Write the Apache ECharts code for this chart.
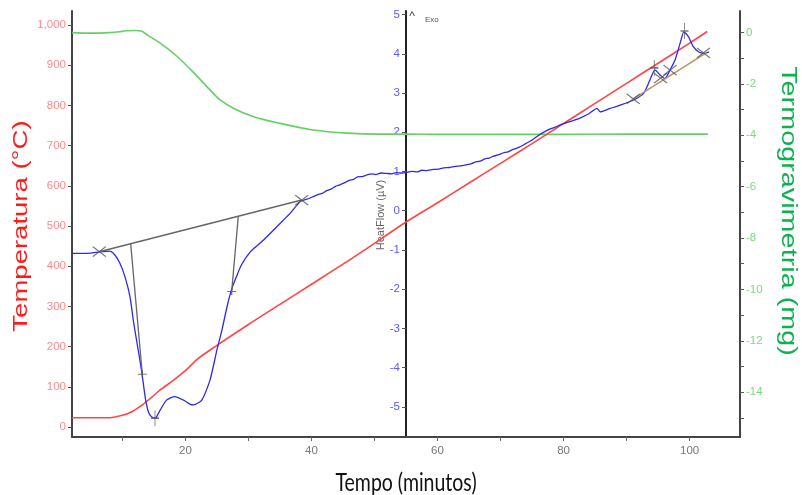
<!DOCTYPE html>
<html>
<head>
<meta charset="utf-8">
<script src="https://cdn.jsdelivr.net/npm/echarts@6/dist/echarts.min.js"></script>
<style>
  html, body { margin: 0; padding: 0; background: #fff; }
  #chart { width: 802px; height: 495px; }
</style>
</head>
<body>
<div id="chart"></div>
<script>
// Temperature programme (left axis, °C)
const tempTime  = [2, 8, 10, 11.5, 13, 14.5, 16, 18, 20, 22, 25, 30, 35, 40, 45, 50, 55, 60, 65, 70, 75, 80, 85, 90, 95, 100, 102.8];
const tempValue = [23, 23, 29, 38, 53, 72, 92, 115, 140, 170, 203, 255, 305, 355, 405, 457, 510, 558, 607, 656, 705, 755, 805, 855, 905, 955, 984];

// Thermogravimetry (right axis, mg)
const tgTime  = [2, 5, 8, 9.5, 10.5, 12.0, 13.1, 13.9, 16.0, 18.6, 21.2, 23.9, 25.5, 27.6, 30.8, 35.0, 40.3, 45.6, 50.9, 55.0, 60, 70, 80, 90, 102.9];
const tgValue = [-0.01, -0.03, -0.01, 0.02, 0.06, 0.07, 0.04, -0.10, -0.42, -0.92, -1.54, -2.24, -2.63, -2.95, -3.28, -3.54, -3.80, -3.92, -3.96, -3.96, -3.97, -3.97, -3.97, -3.96, -3.96];

// Heat flow (middle axis, µV)
const hfTime  = [2.0, 3.5, 4.9, 6.4, 8.0, 8.8, 9.6, 10.4, 11.2, 11.8, 12.5, 13.1, 13.6, 14.1, 14.6, 15.2, 16.0, 17.0, 18.3, 19.7, 20.7, 21.3, 22.6, 23.9, 25.0, 25.8, 26.6, 27.3, 28.1, 28.9, 30.3, 32.4, 34.5, 36.6,
                 38.2, 39.0, 39.6, 40.3, 41.0, 41.7, 42.4, 43.1, 43.8, 44.5, 45.2, 46.0, 46.7, 47.3, 48.0, 48.8, 49.5, 50.2, 51.0, 51.9, 52.7, 53.5, 54.3, 55.0, 55.9, 56.8, 57.5, 58.2, 59.3, 60.2, 61.0, 61.9, 62.8, 63.7, 64.6, 65.4, 66.2, 66.9, 67.5, 68.2, 68.9, 69.6, 70.4, 71.2, 72.0, 73.0, 74.0, 75.0, 76.3, 77.1, 78.0, 78.7, 79.4,
                 81.0, 82.6, 84.0, 85.3, 85.8, 87.3, 89.0, 91.1, 92.7, 93.7, 94.5, 95.3, 96.1, 96.9, 97.7, 98.5, 99.1, 99.8, 100.6, 101.4, 102.2, 103.1];
const hfValue = [-1.09, -1.09, -1.08, -1.05, -1.03, -1.13, -1.34, -1.68, -2.19, -2.87, -3.55, -4.14, -4.74, -5.12, -5.25, -5.29, -5.08, -4.83, -4.74, -4.83, -4.93, -4.95, -4.83, -4.32, -3.55, -3.04, -2.45, -2.02, -1.68, -1.38, -1.05, -0.75, -0.41, -0.07,
                 0.23, 0.28, 0.31, 0.36, 0.41, 0.44, 0.51, 0.55, 0.62, 0.66, 0.71, 0.77, 0.80, 0.86, 0.87, 0.91, 0.94, 0.92, 0.96, 0.95, 0.94, 0.97, 0.96, 0.97, 1.00, 0.99, 1.03, 1.02, 1.05, 1.06, 1.09, 1.10, 1.13, 1.14, 1.17, 1.20, 1.25, 1.27, 1.32, 1.34, 1.39, 1.42, 1.47, 1.50, 1.56, 1.62, 1.71, 1.80, 1.95, 2.02, 2.09, 2.13, 2.18,
                 2.27, 2.36, 2.47, 2.61, 2.52, 2.60, 2.69, 2.82, 2.99, 3.33, 3.59, 3.46, 3.37, 3.59, 3.84, 4.27, 4.56, 4.44, 4.18, 4.05, 4.01, 4.05];

// Peak construction lines on the heat flow curve [time, µV]
const baseLineLow  = [[6.33, -1.045], [38.45, 0.27]];
const onsetLine    = [[11.31, -0.84], [13.16, -4.17]];
const endsetLine   = [[28.39, -0.14], [27.34, -2.06]];
const baseLineHigh = [[91.06, 2.85], [102.7, 4.03]];
const crossMarks   = [[6.33, -1.045], [38.45, 0.27], [91.06, 2.85], [95.4, 3.38], [96.9, 3.58], [102.2, 4.02]];
const plusMarks    = [[13.16, -4.17], [27.34, -2.06]];
const peakMarks    = [[15.17, -5.29], [94.4, 3.64], [99.2, 4.58]];

// Axis tick positions
const xTicks   = [10, 20, 30, 40, 50, 60, 70, 80, 90, 100];
const xLabels  = [20, 40, 60, 80, 100];
const tempTicks = [0, 100, 200, 300, 400, 500, 600, 700, 800, 900, 1000];
const hfTicks  = [-5, -4, -3, -2, -1, 0, 1, 2, 3, 4, 5];
const tgTicks  = [0, -1, -2, -3, -4, -5, -6, -7, -8, -9, -10, -11, -12, -13, -14, -15];
const tgLabels = [0, -2, -4, -6, -8, -10, -12, -14];

const zip = (a, b) => a.map((v, i) => [v, b[i]]);

const GRID = { left: 72, right: 62, top: 11, bottom: 58 };
const axisFont = 'Liberation Sans, Arial, sans-serif';

const chart = echarts.init(document.getElementById('chart'), null, { renderer: 'canvas' });

const crossPath = 'path://M0,0L14,10M14,0L0,10';
const plusPath = 'path://M0,5L10,5M5,0L5,10';

const option = {
  animation: false,
  backgroundColor: '#ffffff',
  grid: GRID,
  xAxis: {
    type: 'value', min: 2, max: 108,
    axisLine: { onZero: false, lineStyle: { color: '#444', width: 2 } },
    axisTick: { customValues: xTicks, length: 4, lineStyle: { color: '#666' } },
    axisLabel: { customValues: xLabels, color: '#777', fontSize: 11.5, fontFamily: axisFont, margin: 8 },
    splitLine: { show: false }
  },
  yAxis: [
    { // temperature
      type: 'value', position: 'left', min: -25, max: 1035,
      axisLine: { show: true, onZero: false, lineStyle: { color: '#444', width: 2 } },
      axisTick: { show: true, customValues: tempTicks, length: 4, lineStyle: { color: '#555' } },
      axisLabel: { customValues: tempTicks, color: '#ff8a8a', fontSize: 11.5, fontFamily: axisFont, margin: 6,
                   formatter: v => Number(v).toLocaleString('en-US') },
      splitLine: { show: false }
    },
    { // thermogravimetry
      type: 'value', position: 'right', min: -15.74, max: 0.83,
      axisLine: { show: true, onZero: false, lineStyle: { color: '#444', width: 2 } },
      axisTick: { show: true, customValues: tgTicks, length: 4, lineStyle: { color: '#555' } },
      axisLabel: { customValues: tgLabels, color: '#7ed87e', fontSize: 11.5, fontFamily: axisFont, margin: 6 },
      splitLine: { show: false }
    },
    { // heat flow, drawn at t = 55 min
      type: 'value', position: 'left', offset: -334, min: -5.77, max: 5.09,
      axisLine: { show: true, onZero: false, lineStyle: { color: '#222', width: 2 } },
      axisTick: { show: true, customValues: hfTicks, length: 4, lineStyle: { color: '#555' } },
      axisLabel: { customValues: hfTicks, color: '#5a5aff', fontSize: 11.5, fontFamily: axisFont, margin: 6 },
      splitLine: { show: false }
    }
  ],
  series: [
    { name: 'TG', type: 'line', yAxisIndex: 1, data: zip(tgTime, tgValue), showSymbol: false, smooth: 0.3,
      lineStyle: { color: '#66d066', width: 1.6 }, silent: true, z: 2 },
    { name: 'Temperatura', type: 'line', yAxisIndex: 0, data: zip(tempTime, tempValue), showSymbol: false, smooth: 0.3,
      lineStyle: { color: '#ff4545', width: 1.6 }, silent: true, z: 3 },
    { name: 'HeatFlow', type: 'line', yAxisIndex: 2, data: zip(hfTime, hfValue), showSymbol: false, smooth: 0.2,
      lineStyle: { color: '#2b2be6', width: 1.3 }, silent: true, z: 4 },
    { type: 'line', yAxisIndex: 2, data: baseLineLow, showSymbol: false, lineStyle: { color: '#666', width: 1.5 }, silent: true, z: 5 },
    { type: 'line', yAxisIndex: 2, data: onsetLine, showSymbol: false, lineStyle: { color: '#666', width: 1.3 }, silent: true, z: 5 },
    { type: 'line', yAxisIndex: 2, data: endsetLine, showSymbol: false, lineStyle: { color: '#666', width: 1.3 }, silent: true, z: 5 },
    { type: 'line', yAxisIndex: 2, data: baseLineHigh, showSymbol: false, lineStyle: { color: '#b89468', width: 1.6 }, silent: true, z: 5 },
    { type: 'scatter', yAxisIndex: 2, data: crossMarks, symbol: crossPath, symbolSize: [13, 10],
      itemStyle: { color: 'rgba(0,0,0,0)', borderColor: '#555', borderWidth: 1.2 }, silent: true, z: 6 },
    { type: 'scatter', yAxisIndex: 2, data: plusMarks, symbol: plusPath, symbolSize: [9, 7],
      itemStyle: { color: 'rgba(0,0,0,0)', borderColor: '#555', borderWidth: 1.2 }, silent: true, z: 6 },
    { type: 'scatter', yAxisIndex: 2, data: peakMarks, symbol: plusPath, symbolSize: [8, 16],
      itemStyle: { color: 'rgba(0,0,0,0)', borderColor: '#555', borderWidth: 1.2 }, silent: true, z: 6 }
  ],
  graphic: [
    { type: 'text', x: 21, y: 226, rotation: Math.PI / 2, scaleX: 1.31, silent: true,
      style: { text: 'Temperatura (°C)', fill: '#ff1a1a', fontSize: 21, fontFamily: axisFont,
               align: 'center', verticalAlign: 'middle' } },
    { type: 'text', x: 788, y: 211, rotation: -Math.PI / 2, scaleX: 1.34, silent: true,
      style: { text: 'Termogravimetria (mg)', fill: '#10b050', fontSize: 21.5, fontFamily: axisFont,
               align: 'center', verticalAlign: 'middle' } },
    { type: 'text', x: 381, y: 215, rotation: Math.PI / 2, silent: true,
      style: { text: 'HeatFlow (µV)', fill: '#666', fontSize: 11, fontFamily: axisFont,
               align: 'center', verticalAlign: 'middle' } },
    { type: 'text', x: 406, y: 483, scaleY: 1.3, silent: true,
      style: { text: 'Tempo (minutos)', fill: '#111', fontSize: 19.5, fontFamily: 'Lato, Open Sans, sans-serif',
               align: 'center', verticalAlign: 'middle' } },
    { type: 'text', x: 412, y: 17, silent: true,
      style: { text: '^', fill: '#444', fontSize: 12, fontFamily: axisFont, align: 'center', verticalAlign: 'middle' } },
    { type: 'text', x: 425, y: 20, silent: true,
      style: { text: 'Exo', fill: '#555', fontSize: 8, fontFamily: axisFont, align: 'left', verticalAlign: 'middle' } }
  ]
};

chart.setOption(option);
</script>
</body>
</html>
